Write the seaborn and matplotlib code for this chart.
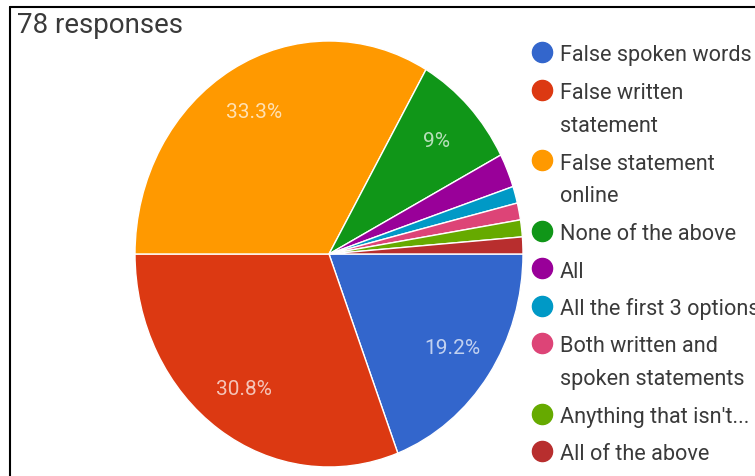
import matplotlib
matplotlib.use("Agg")
import matplotlib.pyplot as plt
import seaborn as sns
from matplotlib.lines import Line2D

sns.set_theme(style="white")
plt.rcParams["font.family"] = ["Roboto", "DejaVu Sans"]

title = "78 responses"
labels = [
    "False spoken words",
    "False written\nstatement",
    "False statement\nonline",
    "None of the above",
    "All",
    "All the first 3 options",
    "Both written and\nspoken statements",
    "Anything that isn't...",
    "All of the above",
]
counts = [15, 24, 26, 7, 2, 1, 1, 1, 1]
colors = ["#3366cc", "#dc3912", "#ff9900", "#109618", "#990099",
          "#0099c6", "#dd4477", "#66aa00", "#b82e2e"]

W, H = 755, 477
fig = plt.figure(figsize=(W / 100, H / 100), dpi=100)
fig.patch.set_facecolor("white")


def px(x, y):
    return x / W, 1 - y / H


def pct_label(p):
    if p < 5:
        return ""
    s = f"{p:.1f}"
    if s.endswith(".0"):
        s = s[:-2]
    return s + "%"


# Pie area (slightly taller than wide)
ax = fig.add_axes([135 / W, 1 - 468 / H, 388 / W, 426 / H])
ax.pie(
    counts,
    colors=colors,
    startangle=0,
    counterclock=False,
    autopct=pct_label,
    pctdistance=0.77,
    wedgeprops=dict(edgecolor="white", linewidth=1.0),
    textprops=dict(color="white", fontsize=15, alpha=0.7),
)
ax.set_aspect("auto")
ax.set_xlim(-1, 1)
ax.set_ylim(-1, 1)
ax.axis("off")

# Title
fig.text(*px(17, 33), title, fontsize=20, color="#3a3a3a", va="baseline", ha="left")

# Legend drawn as a column of dots and labels
y = 53.0
line_step, entry_step = 33.0, 37.5
for lab, col in zip(labels, colors):
    fig.add_artist(Line2D([542 / W], [1 - y / H], marker="o", markersize=14.5,
                          color=col, linestyle="none", transform=fig.transFigure))
    lines = lab.split("\n")
    for i, line in enumerate(lines):
        ly = y + i * line_step
        fig.text(*px(560, ly + 8.5), line, fontsize=15.6, color="#3a3a3a",
                 va="baseline", ha="left")
    y += (len(lines) - 1) * line_step + entry_step

# Frame edges
fig.add_artist(Line2D([10 / W, 10 / W], [1 - 8 / H, 0], color="black", lw=1.5,
                      transform=fig.transFigure))
fig.add_artist(Line2D([10 / W, 1], [1 - 8 / H, 1 - 8 / H], color="black", lw=1.5,
                      transform=fig.transFigure))

fig.savefig("out.png", dpi=100, facecolor="white")
